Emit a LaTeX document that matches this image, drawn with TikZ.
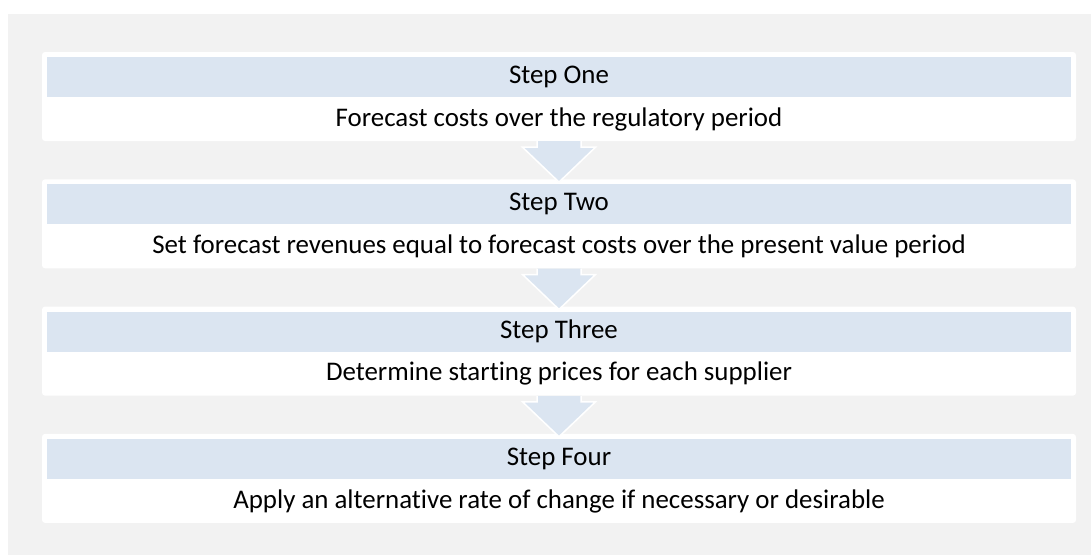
\documentclass[tikz,border=0pt]{standalone}
\usepackage{fontspec}
\setmainfont{Carlito}[Ligatures=CommonOff]
\usetikzlibrary{positioning,calc}

\definecolor{panelgray}{HTML}{F2F2F2}
\definecolor{bandblue}{HTML}{DBE5F1}

\tikzset{
  stepbox/.style={fill=white, rounded corners=3pt, minimum width=1034pt, minimum height=89pt, inner sep=0pt},
  stepband/.style={fill=bandblue, minimum width=1024pt, minimum height=40pt, inner sep=0pt, font=\fontsize{26.9}{30}\selectfont},
  steptext/.style={inner sep=0pt, font=\fontsize{26.9}{30}\selectfont},
  flowarrow/.style={fill=bandblue, draw=white, line width=1.5pt, line join=miter}
}

\begin{document}
\begin{tikzpicture}[x=1pt, y=-1pt]
    \useasboundingbox (0,0) rectangle (1091,555);
    \fill[panelgray] (8,14) rectangle (1091,555);

    % Centre line and vertical pitch of the steps
    \pgfmathsetmacro{\cx}{559};
    \pgfmathsetmacro{\pitch}{127.3};

    % Draw the step boxes with their header bands
    \foreach \name/\head/\body [count=\i from 0] in {
        one/Step One/Forecast costs over the regulatory period,
        two/Step Two/Set forecast revenues equal to forecast costs over the present value period,
        three/Step Three/Determine starting prices for each supplier,
        four/Step Four/Apply an alternative rate of change if necessary or desirable} {
      \node[stepbox] (\name) at (\cx, 96.5+\i*\pitch) {};
      \node[stepband, below=5pt of \name.north] (\name-band) {\head};
      \node[steptext] (\name-text) at ($(\name-band.south)!0.5!(\name.south)$) {\body};
    }

    % Draw the block arrows from one step to the next
    \foreach \a/\b in {one/two, two/three, three/four} {
      \draw[flowarrow] ($(\a.south)+(-22,0)$) -- ++(0,6) -- ++(-14.5,0)
        -- ($(\b.north)+(0,3)$) -- ($(\a.south)+(36.5,6)$) -- ++(-14.5,0)
        -- ($(\a.south)+(22,0)$);
    }
\end{tikzpicture}
\end{document}
